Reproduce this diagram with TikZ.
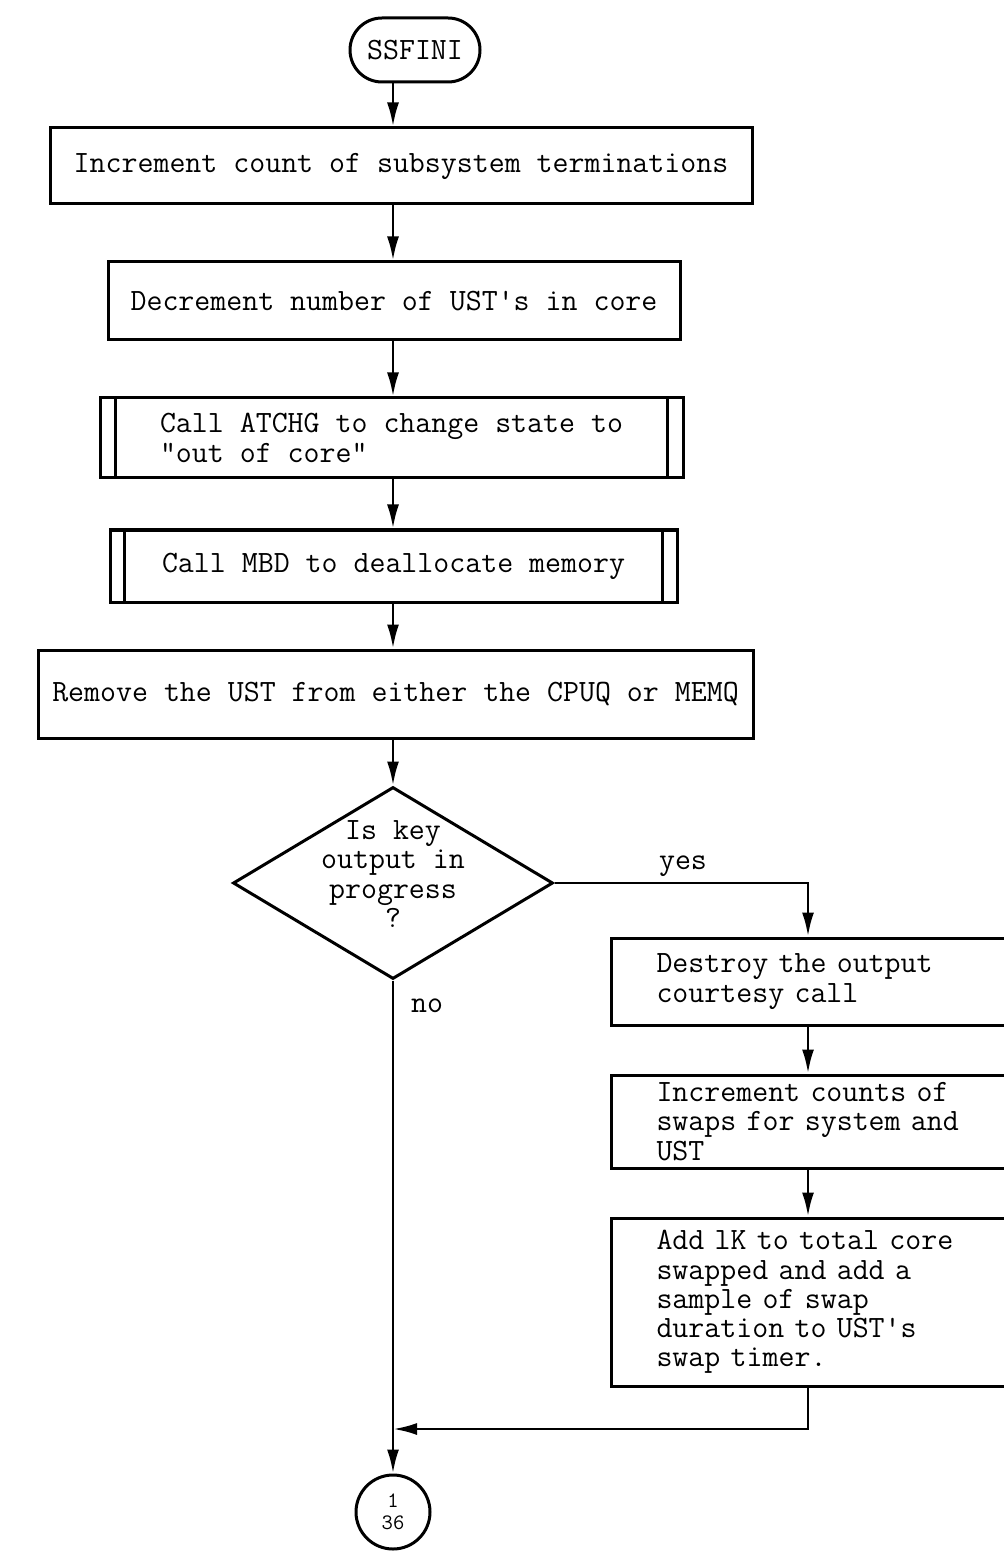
\documentclass[tikz,border=0pt]{standalone}
\usetikzlibrary{shapes.geometric,arrows.meta}
\begin{document}
\begin{tikzpicture}[x=0.5pt,y=-0.5pt,
  every node/.style={font=\ttfamily\fontsize{15.5}{14.6}\selectfont},
  frame/.style={draw, line width=1.5pt, inner sep=0pt},
  procbox/.style={frame, align=center},
  sidebox/.style={frame, anchor=west, align=left, text width=185pt, inner xsep=22.5pt, minimum width=230pt},
  conn/.style={line width=1.4pt, -{Latex[length=12pt,width=6pt]}},
  lbl/.style={inner sep=0pt}
]
\useasboundingbox (0,0) rectangle (1004,1566);

% the main flow runs down this column, the yes branch down the second one
\coordinate (col) at (393,0);
\coordinate (col2) at (808,0);

% start terminal
\node[frame, rounded corners=16pt, minimum width=65pt, minimum height=32pt] (start) at (415,50) {SSFINI};

% main column
\node[procbox, minimum width=351pt, minimum height=38pt] (b1) at (401,166)
  {Increment count of subsystem terminations};
\node[procbox, minimum width=286pt, minimum height=39pt] (b2) at (394,301)
  {Decrement number of UST's in core};
\node[frame, align=left, minimum width=291.5pt, minimum height=40pt] (b3) at (391.5,438)
  {Call ATCHG to change state to\\"out of core"};
\node[procbox, minimum width=283.5pt, minimum height=36pt] (b4) at (393.5,566)
  {Call MBD to deallocate memory};
\node[procbox, minimum width=357.5pt, minimum height=44pt] (b5) at (395.5,694)
  {Remove the UST from either the CPUQ or MEMQ};

% predefined-process side bars
\foreach \b/\d in {b3/8.5pt, b4/8pt} {
  \draw[line width=1.5pt] ([xshift=\d]\b.north west) -- ([xshift=\d]\b.south west);
  \draw[line width=1.5pt] ([xshift=-\d]\b.north east) -- ([xshift=-\d]\b.south east);
}

% decision
\node[diamond, draw, line width=1.5pt, inner sep=0pt, minimum width=160pt, minimum height=96pt] (dec) at (393,883) {};
\node[align=center, lbl] (dectext) at (393,874)
  {Is key\\output in\\progress\\?};

% yes branch
\node[sidebox, minimum height=43.5pt] (b6) at (610,981.5)
  {Destroy the output\\courtesy call};
\node[sidebox, minimum height=46.5pt] (b7) at (610,1121.5)
  {Increment counts of\\swaps for system and\\UST};
\node[sidebox, minimum height=84pt] (b8) at (610,1302)
  {Add lK to total core\\swapped and add a\\sample of swap\\duration to UST's\\swap timer.};

% off-page connector
\node[circle, draw, line width=1.5pt, minimum size=37pt, inner sep=0pt, align=center,
      font=\ttfamily\fontsize{11}{11}\selectfont] (off) at (393,1512) {1\\36};

\coordinate (join) at (393,1429);

% connectors
\draw[conn] (start.south -| col) -- (b1.north -| col);
\draw[conn] (b1.south -| col) -- (b2.north -| col);
\draw[conn] (b2.south -| col) -- (b3.north -| col);
\draw[conn] (b3.south -| col) -- (b4.north -| col);
\draw[conn] (b4.south -| col) -- (b5.north -| col);
\draw[conn] (b5.south -| col) -- (dec.north);
\draw[conn] (dec.east) -- (dec.east -| col2) -- (b6.north -| col2);
\draw[conn] (b6.south -| col2) -- (b7.north -| col2);
\draw[conn] (b7.south -| col2) -- (b8.north -| col2);
\draw[conn] (b8.south -| col2) -- (join -| col2) -- (join);
\draw[conn] (dec.south) -- (off.north);

% branch labels
\node[lbl] (yes) at (683,866) {yes};
\node[lbl] (no) at (427,1006) {no};
\end{tikzpicture}
\end{document}
